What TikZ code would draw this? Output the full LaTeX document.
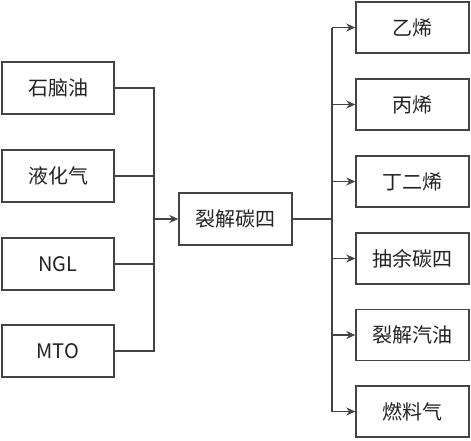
\documentclass[tikz,border=0pt]{standalone}
\usepackage{fontspec}
\setmainfont{Noto Sans CJK SC}
\usetikzlibrary{arrows.meta}
\definecolor{ln}{HTML}{444444}
\definecolor{tx}{HTML}{222222}
\tikzset{
  box/.style={draw=ln, line width=1.4pt, rectangle, minimum width=112pt, minimum height=52pt, inner sep=0pt, text=tx, font=\fontsize{20pt}{22pt}\selectfont},
  conn/.style={draw=ln, line width=1.4pt},
  arr/.style={conn, -{Stealth[length=9pt,width=8pt]}}
}
\begin{document}
\begin{tikzpicture}[x=1pt,y=-1pt]
\useasboundingbox (0,0) rectangle (471,440);
% sources
\node[box] (s1) at (58,88) {石脑油};
\node[box] (s2) at (58,176) {液化气};
\node[box] (s3) at (58,264) {NGL};
\node[box] (s4) at (58,351) {MTO};
% center
\node[box, minimum width=113pt] (c) at (235.5,219) {裂解碳四};
% products
\node[box, minimum width=113pt, minimum height=51pt] (t1) at (412.5,27.5) {乙烯};
\node[box, minimum width=113pt, minimum height=51pt] (t2) at (412.5,104.5) {丙烯};
\node[box, minimum width=113pt, minimum height=51pt] (t3) at (412.5,181.5) {丁二烯};
\node[box, minimum width=113pt, minimum height=51pt] (t4) at (412.5,258.5) {抽余碳四};
\node[box, minimum width=113pt, minimum height=51pt] (t5) at (412.5,335) {裂解汽油};
\node[box, minimum width=113pt, minimum height=51pt] (t6) at (412.5,411.5) {燃料气};
% bus coordinates
\coordinate (bl) at (154,0);
\coordinate (br) at (332,0);
% left connectors
\draw[conn] (s1.east) -- (s1.east -| bl) -- (s4.east -| bl) -- (s4.east);
\draw[conn] (s2.east) -- (s2.east -| bl);
\draw[conn] (s3.east) -- (s3.east -| bl);
\draw[arr] (c.west -| bl) -- (c.west);
% right connectors
\draw[conn] (c.east) -- (c.east -| br);
\draw[conn] (t1.west -| br) -- (t6.west -| br);
\foreach \t in {t1,t2,t3,t4,t5,t6}{
  \draw[arr] (\t.west -| br) -- (\t.west);
}
\end{tikzpicture}
\end{document}
